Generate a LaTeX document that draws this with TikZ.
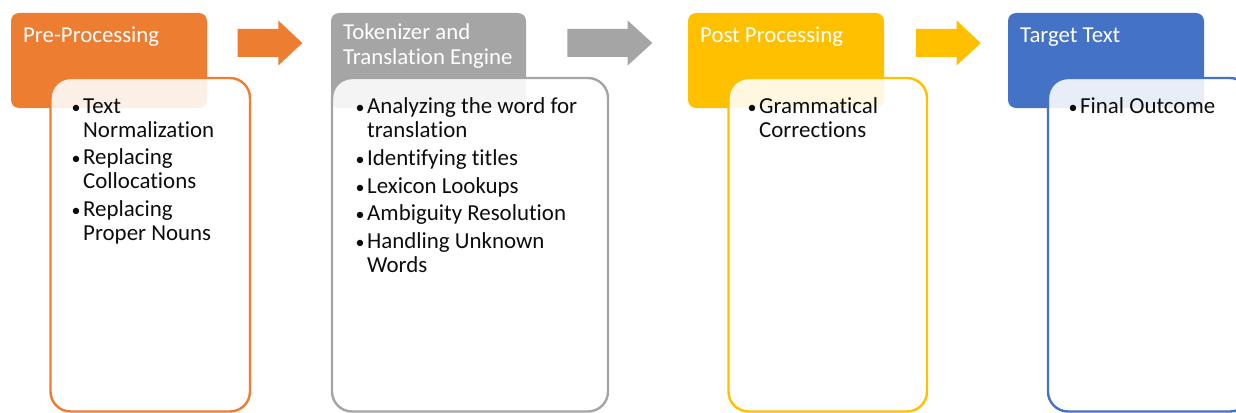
\documentclass[tikz,border=0pt]{standalone}
\usepackage{fontspec}
\setmainfont[Ligatures=NoCommon]{Carlito}
\definecolor{cOrange}{HTML}{ED7D31}
\definecolor{cGray}{HTML}{A5A5A5}
\definecolor{cYellow}{HTML}{FFC000}
\definecolor{cBlue}{HTML}{4472C4}
\definecolor{cText}{HTML}{0D0D0D}
\tikzset{
  header/.style={fill=#1, draw=none, rounded corners=8pt},
  listbox/.style={draw=#1, line width=2.4pt, fill=white, fill opacity=0.88, rounded corners=20pt},
  blockarrow/.style={fill=#1, draw=none},
  headtext/.style={anchor=base west, inner sep=0pt, text=white, font=\fontsize{22.8}{24}\selectfont},
  itemtext/.style={anchor=base west, inner sep=0pt, text=cText, font=\fontsize{22.9}{24}\selectfont},
  bullet/.style={anchor=base west, inner sep=0pt, text=cText, font=\fontsize{18}{18}\selectfont},
}
\begin{document}
\begin{tikzpicture}[x=1pt,y=-1pt]
\useasboundingbox (0,0) rectangle (1236,412);
\clip (0,0) rectangle (1236,412);

% ---- header tiles
\path[header=cOrange] (11,13) rectangle (207,108);
\path[header=cGray]   (331,13) rectangle (526,108);
\path[header=cYellow] (688,13) rectangle (884,108);
\path[header=cBlue]   (1008,13) rectangle (1204,108);

\node[headtext] (h1) at (23,42.3) {Pre-Processing};
\node[headtext] (h2a) at (343,40) {Tokenizer and};
\node[headtext] (h2b) at (343,65) {Translation Engine};
\node[headtext] (h3) at (700,42.3) {Post Processing};
\node[headtext] (h4) at (1020,42.3) {Target Text};

% ---- block arrows between stages
\path[blockarrow=cOrange] (237.7,29) -- (278.3,29) -- (278.3,20.5) -- (302.3,43) -- (278.3,65.5) -- (278.3,57) -- (237.7,57) -- cycle;
\path[blockarrow=cGray] (567.3,29) -- (627.7,29) -- (627.7,20.5) -- (652.3,43) -- (627.7,65.5) -- (627.7,57) -- (567.3,57) -- cycle;
\path[blockarrow=cYellow] (916,29) -- (956.7,29) -- (956.7,20.5) -- (980.7,43) -- (956.7,65.5) -- (956.7,57) -- (916,57) -- cycle;

% ---- list panels
\path[listbox=cOrange] (50.5,78) rectangle (250,411.5);
\path[listbox=cGray]   (332,78) rectangle (608,411.5);
\path[listbox=cYellow] (728.5,78) rectangle (927,411.5);
\path[listbox=cBlue]   (1048,78) rectangle (1250,411.5);

% ---- panel 1 items
\node[bullet] (b11) at (71.5,113) {\textbullet};
\node[itemtext] (t11a) at (83,113) {Text};
\node[itemtext] (t11b) at (83,137) {Normalization};
\node[bullet] (b12) at (71.5,164) {\textbullet};
\node[itemtext] (t12a) at (83,164) {Replacing};
\node[itemtext] (t12b) at (83,188.5) {Collocations};
\node[bullet] (b13) at (71.5,216) {\textbullet};
\node[itemtext] (t13a) at (83,216) {Replacing};
\node[itemtext] (t13b) at (83,240) {Proper Nouns};

% ---- panel 2 items
\node[bullet] (b21) at (355.5,113) {\textbullet};
\node[itemtext] (t21a) at (367,113) {Analyzing the word for};
\node[itemtext] (t21b) at (367,137.5) {translation};
\node[bullet] (b22) at (355.5,165.5) {\textbullet};
\node[itemtext] (t22) at (367,165.5) {Identifying titles};
\node[bullet] (b23) at (355.5,193) {\textbullet};
\node[itemtext] (t23) at (367,193) {Lexicon Lookups};
\node[bullet] (b24) at (355.5,220.5) {\textbullet};
\node[itemtext] (t24) at (367,220.5) {Ambiguity Resolution};
\node[bullet] (b25) at (355.5,248.5) {\textbullet};
\node[itemtext] (t25a) at (367,248.5) {Handling Unknown};
\node[itemtext] (t25b) at (367,272.5) {Words};

% ---- panel 3 items
\node[bullet] (b31) at (747.5,113) {\textbullet};
\node[itemtext] (t31a) at (759,113) {Grammatical};
\node[itemtext] (t31b) at (759,137.5) {Corrections};

% ---- panel 4 items
\node[bullet] (b41) at (1068.5,113) {\textbullet};
\node[itemtext] (t41) at (1080,113) {Final Outcome};
\end{tikzpicture}
\end{document}
